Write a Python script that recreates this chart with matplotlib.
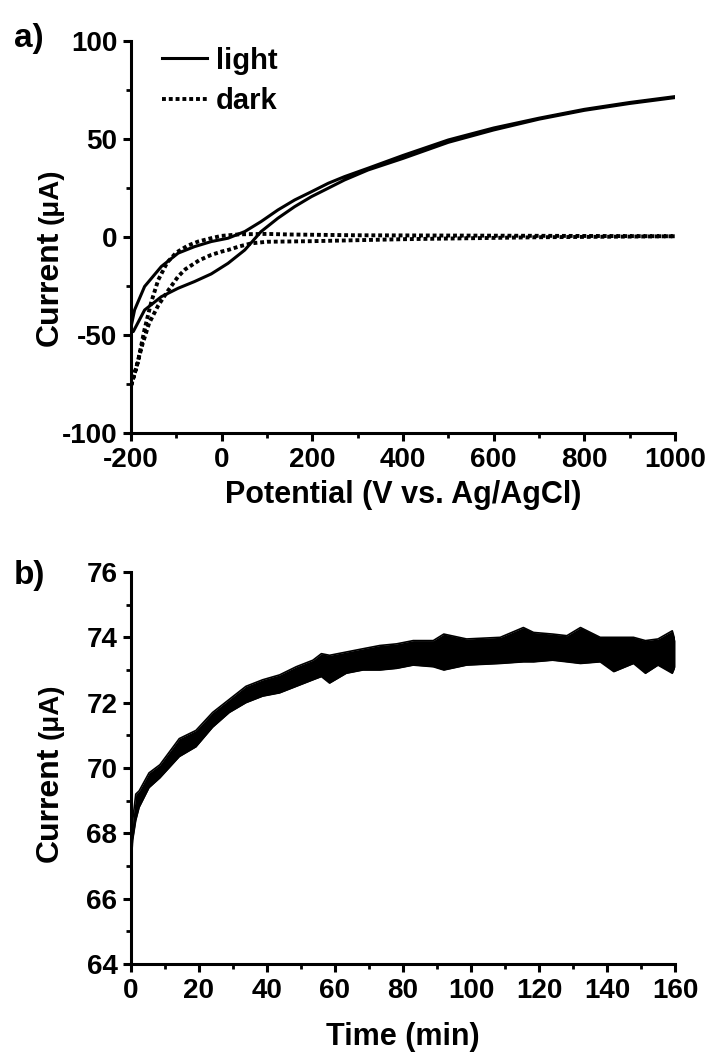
import numpy as np
import matplotlib
matplotlib.use('Agg')
import matplotlib.pyplot as plt
from matplotlib.ticker import MultipleLocator

plt.rcParams['font.family'] = ['Liberation Sans', 'DejaVu Sans']
plt.rcParams['font.weight'] = 'bold'
plt.rcParams['axes.unicode_minus'] = False

# --- panel a: cyclic voltammograms (potential, current in uA)
light_fwd_v = [-200, -195, -170, -133, -96, -60, -23, 14, 51, 87, 124, 161, 198, 235, 271, 323, 400, 500, 600, 700, 800, 900, 1000]
light_fwd_i = [-48, -48.3, -37.3, -30.5, -26.2, -22.8, -18.9, -13.5, -6.7, 2.7, 9.5, 15.4, 20.5, 24.8, 29, 34.1, 40, 48.2, 54.5, 60, 64.5, 68, 71]
light_rev_v = [1000, 900, 800, 700, 600, 500, 400, 323, 271, 235, 198, 161, 124, 87, 51, 14, -23, -60, -96, -133, -170, -192, -200]
light_rev_i = [71.5, 68.5, 65, 60.5, 55.5, 49.4, 41.5, 35, 30.7, 27.3, 23, 18.8, 13.7, 7.8, 2.7, -0.7, -2.4, -5, -8.3, -15.1, -25.3, -37.2, -46]

dark_fwd_v = [-200, -190, -175, -160, -140, -120, -96, -80, -50, -23, 0, 14, 40, 66, 100, 200, 400, 700, 1000]
dark_fwd_i = [-76, -68, -55, -44, -35, -28, -20.2, -16.5, -12, -9.2, -7.5, -6.7, -4.8, -3.3, -2.5, -2.2, -1.2, -0.2, 0.3]
dark_rev_v = [1000, 600, 300, 150, 100, 40, 0, -20, -52, -75, -100, -120, -140, -155, -170, -185, -200]
dark_rev_i = [0.3, 0.6, 0.8, 1.2, 1.5, 1.3, 0.5, -0.5, -2.4, -4.5, -8, -13, -22, -33, -47, -64, -76]

# --- panel b: current vs time (envelope of the noisy trace)
time_min = [0, 0.5, 1.4, 2.4, 5.3, 8.5, 14.2, 19.1, 24, 28.9, 33.8, 38.7, 43.7, 48.6, 53.5, 56, 58.4, 63.3, 68.2, 73.2, 78.1,
            83, 88.9, 92, 98.7, 108.6, 115.4, 118.4, 124, 128.2, 132.2, 138, 142, 147.8, 151.3, 155, 159.2, 160]
cur_low = [67.0, 67.8, 68.4, 68.8, 69.4, 69.7, 70.35, 70.65, 71.25, 71.7, 72.0, 72.2, 72.3, 72.5, 72.7, 72.8, 72.6, 72.9, 73.0, 73.0, 73.05,
           73.15, 73.1, 73.0, 73.15, 73.2, 73.25, 73.25, 73.3, 73.25, 73.2, 73.25, 72.95, 73.2, 72.9, 73.15, 72.9, 73.1]
cur_high = [67.3, 68.4, 69.2, 69.3, 69.85, 70.1, 70.9, 71.15, 71.7, 72.1, 72.5, 72.7, 72.85, 73.1, 73.3, 73.5, 73.45, 73.55, 73.65, 73.75, 73.8,
            73.9, 73.9, 74.1, 73.95, 74.0, 74.3, 74.15, 74.1, 74.05, 74.3, 74.0, 74.0, 74.0, 73.9, 73.95, 74.2, 73.9]

W, H = 711, 1053
fig = plt.figure(figsize=(W / 100, H / 100), dpi=100)
ax_a = fig.add_axes([131 / W, 1 - 433 / H, 544 / W, 392.3 / H])
ax_b = fig.add_axes([131 / W, 1 - 964 / H, 544 / W, 392 / H])

lw = 2.2
ax_a.plot(light_fwd_v + light_rev_v, light_fwd_i + light_rev_i, color='black', lw=lw, label='light')
ax_a.plot(dark_fwd_v + dark_rev_v, dark_fwd_i + dark_rev_i, color='black', lw=2.8,
          linestyle=(0, (1, 0.75)), label='dark')

ax_b.fill_between(time_min, cur_low, cur_high, color='black', lw=0)
ax_b.plot(time_min, cur_low, color='black', lw=1.2)
ax_b.plot(time_min, cur_high, color='black', lw=1.2)

for ax in (ax_a, ax_b):
    for s in ('top', 'right'):
        ax.spines[s].set_visible(False)
    for s in ('left', 'bottom'):
        ax.spines[s].set_linewidth(2.2)
    ax.tick_params(which='major', direction='out', length=5.8, width=2.2, labelsize=20, pad=4)
    ax.tick_params(which='minor', direction='out', length=3.6, width=2.0)
    for lab in ax.get_xticklabels() + ax.get_yticklabels():
        lab.set_fontweight('bold')

ax_a.set_xlim(-200, 1000)
ax_a.set_ylim(-100, 100)
ax_a.xaxis.set_major_locator(MultipleLocator(200))
ax_a.xaxis.set_minor_locator(MultipleLocator(100))
ax_a.yaxis.set_major_locator(MultipleLocator(50))
ax_a.yaxis.set_minor_locator(MultipleLocator(25))
ax_a.set_xlabel('Potential (V vs. Ag/AgCl)', fontsize=22, fontweight='bold', labelpad=5)

ax_b.set_xlim(0, 160)
ax_b.set_ylim(64, 76)
ax_b.xaxis.set_major_locator(MultipleLocator(20))
ax_b.xaxis.set_minor_locator(MultipleLocator(10))
ax_b.yaxis.set_major_locator(MultipleLocator(2))
ax_b.yaxis.set_minor_locator(MultipleLocator(1))
ax_b.set_xlabel('Time (min)', fontsize=22, fontweight='bold', labelpad=13)

leg = ax_a.legend(loc='upper left', bbox_to_anchor=(0.057, 0.985), frameon=False, fontsize=21,
                  handlelength=1.55, handletextpad=0.3, labelspacing=0.42, borderpad=0, borderaxespad=0)
for t in leg.get_texts():
    t.set_fontweight('bold')

# y labels: "Current" followed by a smaller "(uA)"
for y_cur, y_ua in ((346, 224), (862, 739)):
    fig.text(58 / W, 1 - y_cur / H, 'Current', rotation=90, rotation_mode='anchor',
             ha='left', va='baseline', fontsize=23, fontweight='bold')
    fig.text(58 / W, 1 - y_ua / H, '(μA)', rotation=90, rotation_mode='anchor',
             ha='left', va='baseline', fontsize=20, fontweight='bold')

fig.text(14 / W, 1 - 47 / H, 'a)', fontsize=24, fontweight='bold')
fig.text(14 / W, 1 - 584 / H, 'b)', fontsize=24, fontweight='bold')

fig.savefig('out.png', dpi=100)
